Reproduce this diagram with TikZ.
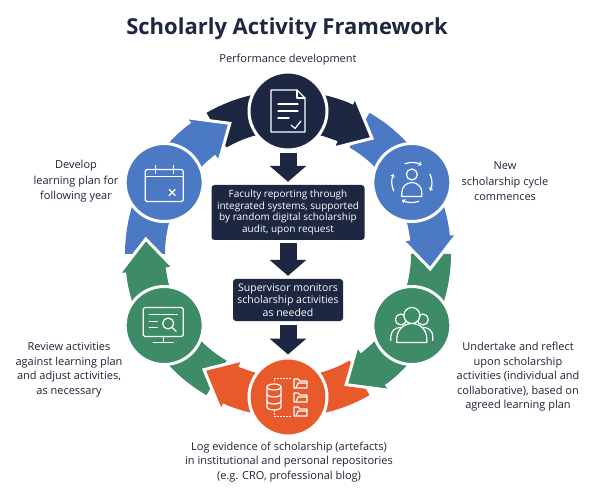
\documentclass[tikz,border=0pt]{standalone}
\usepackage{fontspec}
\setmainfont{Open Sans}
\usetikzlibrary{arrows.meta}
\definecolor{navy}{HTML}{1E2742}
\definecolor{cblue}{HTML}{4B79C3}
\definecolor{cgreen}{HTML}{3E8B68}
\definecolor{corange}{HTML}{E95A2B}
\definecolor{ink}{HTML}{1F2336}
\begin{document}
\begin{tikzpicture}[x=1pt,y=-1pt,
  lbl/.style={text=ink, align=center, font=\fontsize{11}{14.5}\selectfont, inner sep=0pt},
  circ/.style={circle, draw=white, line width=3pt, minimum size=78pt, inner sep=0pt},
  box/.style={fill=navy, rounded corners=3pt, text=white, align=center, inner sep=0pt},
  icon/.style={draw=white, line width=1.2pt, line cap=round, line join=round},
  downarrow/.style={draw=navy, line width=17pt, -{Triangle[width=36pt,length=16pt]}},
]
\fill[white] (0,0) rectangle (600,497);
\useasboundingbox (0,0) rectangle (600,497);
\def\R{143}\def\w{20}\def\W{28}
% ring
\begin{scope}[shift={(288,254)}, yscale=-1]
  \foreach \a/\c in {90/navy, 30/cblue, -30/cgreen, -90/corange, -150/cgreen, 150/cblue}{
    \fill[\c] ({\a+30}:{\R+\w}) arc[start angle={\a+30}, end angle={\a-23}, radius={\R+\w}]
      -- ({\a-23}:{\R+\W}) -- ({\a-36}:\R) -- ({\a-23}:{\R-\W}) -- ({\a-23}:{\R-\w})
      arc[start angle={\a-23}, end angle={\a+30}, radius={\R-\w}] -- cycle;
  }
  \foreach \a/\c in {90/navy, 30/cblue, -30/cgreen, -90/corange, -150/cgreen, 150/cblue}{
    \fill[\c] ({\a-23}:{\R+\W}) -- ({\a-36}:\R) -- ({\a-23}:{\R-\W}) -- cycle;
    \draw[white, line width=3pt] ({\a-23}:{\R+\w}) -- ({\a-23}:{\R+\W}) -- ({\a-36}:\R) -- ({\a-23}:{\R-\W}) -- ({\a-23}:{\R-\w});
  }
  \node[circ, fill=navy] (ctop) at (90:\R) {};
  \node[circ, fill=cblue] (cur) at (30:\R) {};
  \node[circ, fill=cgreen] (clr) at (-30:\R) {};
  \node[circ, fill=corange] (cbot) at (-90:\R) {};
  \node[circ, fill=cgreen] (cll) at (-150:\R) {};
  \node[circ, fill=cblue] (cul) at (150:\R) {};
\end{scope}
% icons
\begin{scope}[shift={(ctop.center)}]
  \draw[icon] (-17,-21) -- (9,-21) -- (17,-13) -- (17,21) -- (-17,21) -- cycle;
  \draw[icon] (9,-21) -- (9,-13) -- (17,-13);
  \draw[icon] (-10,-7) -- (10,-7) (-10,0) -- (10,0) (-10,7) -- (1,7);
  \draw[icon] (3,14) -- (7,17.5) -- (13,10);
\end{scope}
\begin{scope}[shift={(cul.center)}]
  \draw[icon, rounded corners=1.5pt] (-19,-13) rectangle (19,19);
  \draw[icon] (-19,-6) -- (19,-6);
  \draw[icon] (-9,-17) -- (-9,-9) (9,-17) -- (9,-9);
  \draw[icon] (5,7) -- (11,13) (5,13) -- (11,7);
\end{scope}
\begin{scope}[shift={(cur.center)}]
  \draw[icon] (0,-8) circle (5.5);
  \draw[icon] (-10,14) -- (-10,10) arc[start angle=180, end angle=360, radius=10] -- (10,14) -- cycle;
  \draw[icon, -{Stealth[length=3.5pt,width=5pt]}] (250:20) arc[start angle=250, end angle=300, radius=20];
  \draw[icon, -{Stealth[length=3.5pt,width=5pt]}] (335:20) arc[start angle=335, end angle=385, radius=20];
  \draw[icon, -{Stealth[length=3.5pt,width=5pt]}] (70:20) arc[start angle=70, end angle=120, radius=20];
  \draw[icon, -{Stealth[length=3.5pt,width=5pt]}] (155:20) arc[start angle=155, end angle=205, radius=20];
\end{scope}
\begin{scope}[shift={(clr.center)}]
  \draw[icon] (-11,-6) circle (5.5) (11,-6) circle (5.5);
  \draw[icon] (-21,15) -- (-21,11) arc[start angle=180, end angle=360, radius=9];
  \draw[icon] (3,11) arc[start angle=180, end angle=360, radius=9] -- (21,15);
  \draw[icon, fill=cgreen] (-15,17) -- (-15,13) arc[start angle=180, end angle=360, radius=15] -- (15,17) -- cycle;
  \draw[icon, fill=cgreen] (0,-10) circle (8);
\end{scope}
\begin{scope}[shift={(cll.center)}]
  \draw[icon, rounded corners=1.5pt] (-21,-18) rectangle (19,11);
  \draw[icon] (-1,11) -- (-1,17) (-11,17) -- (9,17);
  \draw[icon] (-15,-11) -- (13,-11);
  \draw[icon] (-15,-4) -- (-7,-4) (-15,2) -- (-7,2);
  \draw[icon] (4,-2) circle (5.5);
  \draw[icon] (8,2) -- (12,6);
\end{scope}
\begin{scope}[shift={(cbot.center)}]
  \draw[icon] (-14,-10) ellipse (7 and 3);
  \draw[icon] (-21,-10) -- (-21,10) arc[start angle=180, end angle=0, x radius=7, y radius=3] -- (-7,-10);
  \draw[icon] (-21,-3) arc[start angle=180, end angle=0, x radius=7, y radius=3];
  \draw[icon] (-21,4) arc[start angle=180, end angle=0, x radius=7, y radius=3];
  \foreach \yy in {-14,0,14}{
    \draw[icon] (6,\yy-4) -- (6,\yy+5) -- (19,\yy+5) -- (19,\yy-2) -- (12,\yy-2) -- (10,\yy-4) -- cycle;
    \draw[icon] (8,\yy+5) -- (10,\yy) -- (19,\yy);
  }
  \draw[white, line width=0.8pt, dash pattern=on 1.5pt off 1.5pt] (-14,-13) -- (-14,-19) -- (4,-19);
  \draw[white, line width=0.8pt, dash pattern=on 1.5pt off 1.5pt] (-14,13) -- (-14,19) -- (4,19);
\end{scope}
% boxes
\node[box, minimum width=153pt, minimum height=55pt, font=\fontsize{10}{11.6}\selectfont] (box1) at (288,212.5)
  {Faculty reporting through\\integrated systems, supported\\by random digital scholarship\\audit, upon request};
\node[box, minimum width=110pt, minimum height=42pt, font=\fontsize{10.5}{12.2}\selectfont] (box2) at (288,300)
  {Supervisor monitors\\scholarship activities\\as needed};
% down arrows
\draw[downarrow, shorten <=2pt, shorten >=3pt] (ctop) -- (box1);
\draw[downarrow, shorten <=3pt, shorten >=3pt] (box1) -- (box2);
\draw[downarrow, shorten <=4pt, shorten >=2pt] (box2) -- (cbot);
% labels
\node[text=navy, font=\fontsize{22}{26}\selectfont\bfseries, inner sep=0pt, anchor=base] (title) at (287,34.5) {Scholarly Activity Framework};
\node[lbl, anchor=base] (ltop) at (288,63) {Performance development};
\node[lbl, font=\fontsize{11}{15.5}\selectfont] (lul) at (76,181.5) {Develop\\learning plan for\\following year};
\node[lbl, font=\fontsize{11}{15.5}\selectfont] (lur) at (505,181.5) {New\\scholarship cycle\\commences};
\node[lbl] (lll) at (69,370) {Review activities\\against learning plan\\and adjust activities,\\as necessary};
\node[lbl] (llr) at (518,377) {Undertake and reflect\\upon scholarship\\activities (individual and\\collaborative), based on\\agreed learning plan};
\node[lbl] (lbot) at (289,462) {Log evidence of scholarship (artefacts)\\in institutional and personal repositories\\(e.g. CRO, professional blog)};
\end{tikzpicture}
\end{document}
